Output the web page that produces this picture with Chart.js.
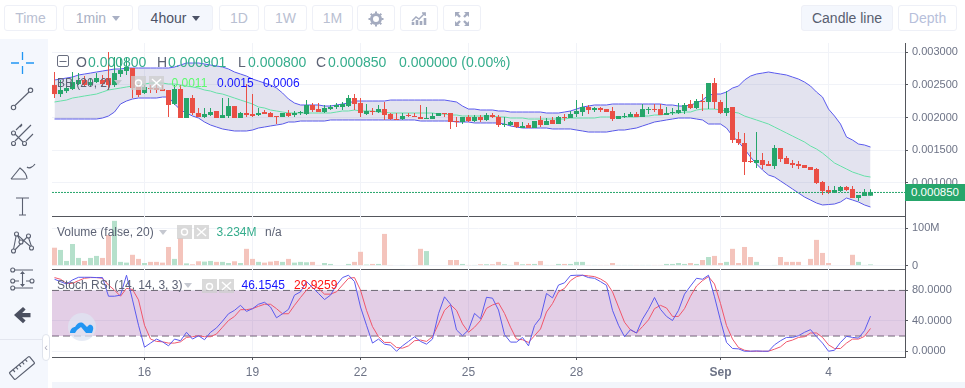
<!DOCTYPE html>
<html><head><meta charset="utf-8">
<script src="https://cdn.jsdelivr.net/npm/chart.js@4.4.1/dist/chart.umd.js"></script>
<style>
html,body{margin:0;padding:0;background:#fff;width:965px;height:388px;overflow:hidden;font-family:"Liberation Sans",Arial,sans-serif}
canvas{position:absolute;left:52px;display:block}
.btn{position:absolute;top:5px;height:26px;box-sizing:border-box;border:1px solid #eef0f7;border-radius:3px;background:#fff;font-size:14px;line-height:24px;text-align:center;color:#b9c0d2}
.btn.on{background:#f4f7fd;color:#4c5266}
.caret{display:inline-block;width:0;height:0;border-left:4.5px solid transparent;border-right:4.5px solid transparent;border-top:5px solid currentColor;margin-left:6px;vertical-align:2px}
.t{position:absolute;white-space:nowrap;line-height:14px}
.lab{font-size:12px;color:#5d6375}
.ohlc{font-size:14px;line-height:16px}
.tg{position:absolute;width:15px;height:14px;background:rgba(205,205,205,.75)}
#side{position:absolute;left:0;top:39px;width:48px;height:349px;background:#f4f7fd}
#foot{position:absolute;left:52px;top:382px;width:913px;height:6px;background:#f2f5fb}
#tag{position:absolute;left:905px;top:184px;width:60px;height:17px;background:#26a66b;color:#fff;font-size:11.5px;line-height:17px;text-align:center}
#hnd{position:absolute;left:42px;top:334px;width:8px;height:27px;box-sizing:border-box;background:#fff;border:1px solid #dfe3ec;border-radius:4px;color:#aab;font-size:11px;line-height:24px;text-align:center}
svg{position:absolute;left:0;top:0;overflow:visible}
</style></head><body>
<div id="side"></div><div id="foot"></div>
<canvas id="cPrice" width="913" height="174" style="top:43px;width:913px;height:174px"></canvas>
<canvas id="cVol" width="913" height="54" style="top:216px;width:913px;height:54px"></canvas>
<canvas id="cStoch" width="913" height="113" style="top:269px;width:913px;height:113px"></canvas>

<div class="btn" style="left:4px;width:53px">Time</div>
<div class="btn" style="left:63px;width:70px;color:#a9b0c4">1min<span class="caret"></span></div>
<div class="btn on" style="left:138px;width:75px">4hour<span class="caret"></span></div>
<div class="btn" style="left:219px;width:40px">1D</div>
<div class="btn" style="left:264px;width:43px">1W</div>
<div class="btn" style="left:312px;width:41px">1M</div>
<div class="btn" style="left:357px;width:38px"></div>
<div class="btn" style="left:400px;width:38px"></div>
<div class="btn" style="left:443px;width:38px"></div>
<div class="btn on" style="left:801px;width:92px;color:#585e70">Candle line</div>
<div class="btn" style="left:898px;width:59px;color:#b7bfdb">Depth</div>

<svg width="965" height="388" fill="none">
  <g stroke="#a4abbf" fill="none">
    <circle cx="376" cy="19" r="4.5" stroke-width="3"/>
    <path stroke-width="2" d="M376 11.5v2M376 24.5v2M368.5 19h2M381.5 19h2M370.7 13.7l1.4 1.4M379.9 22.9l1.4 1.4M370.7 24.3l1.4-1.4M379.9 15.1l1.4-1.4"/>
    <path stroke-width="1.4" d="M412 21l4-4 3 2 6-6M422 13h3.2v3"/>
    <path stroke-width="2.6" d="M413 25v-3M417 25v-5M421 25v-4M425 25v-7"/>
    <path stroke-width="2.4" d="M456 13l4 4M468 13l-4 4M456 25l4-4M468 25l-4-4"/>
    <path fill="#a4abbf" stroke="none" d="M455 12h5l-5 5zM469 12v5l-5-5zM455 26v-5l5 5zM469 26h-5l5-5z"/>
  </g>
  <path stroke="#2196f3" stroke-width="1.3" d="M22.5 52v8M22.5 66v8M11 63h8M26 63h8"/>
  <g stroke="#5a6070" stroke-width="1.1" fill="#f4f7fd">
    <path d="M15 105.5L29 92"/><circle cx="13.5" cy="107.5" r="2.2"/><circle cx="30.5" cy="90.3" r="2.2"/>
    <path d="M16 130l6-6M22 125l-2 2M15 141l16-16M26 141l7-7M15 134l8 8"/><circle cx="13.5" cy="133" r="2"/><circle cx="13.5" cy="143.5" r="2"/><circle cx="24.5" cy="143.5" r="2"/>
    <path fill="none" d="M11 179H26M11 179L20 168C24 171 27 174 27 179M27 167c2 2 6 0 8-3"/>
    <path fill="none" d="M16 198H29M22.5 198V215M19 215H26"/>
    <path fill="none" d="M13 252L16.5 234L32 248L28 236L13 252M16.5 234L21 242"/><circle cx="13.5" cy="251" r="2"/><circle cx="16.5" cy="234" r="2"/><circle cx="28.5" cy="236" r="2"/><circle cx="21" cy="242" r="2"/><circle cx="31.5" cy="248" r="2"/>
    <path fill="none" d="M15 270H33M15 281H19M26 281H30M15 288H33M22.5 273V285"/><circle cx="12.7" cy="270" r="2"/><circle cx="12.7" cy="281" r="2"/><circle cx="32" cy="281" r="2"/><circle cx="12.7" cy="288" r="2"/>
    <path fill="#5a6070" stroke="none" d="M22.5 271l2.5 3h-5zM22.5 287l2.5-3h-5z"/>
  </g>
  <path fill="#4b5060" d="M14 315l9-8 2.6 2.6-3.5 3.4H30.5v4.2H22.1l3.5 3.4-2.6 2.6z"/>
  <path stroke="#e3e6ef" d="M0 339.5H48"/>
  <g transform="translate(22 368) rotate(-40)" stroke="#5a6070" stroke-width="1.2" fill="none">
    <rect x="-13" y="-4.5" width="26" height="9" rx="1"/>
    <path d="M-8 -4.5v3M-4 -4.5v3M0 -4.5v3M4 -4.5v3M8 -4.5v3"/>
  </g>
  <circle cx="82" cy="327" r="14" fill="#dfe4f2" fill-opacity=".75"/>
  <path fill="#2196f3" d="M70 333c0-4 3-6 5-6 2-4 6-6 9-3l3 3 2-2c3-1 5 2 4 5l-1 3h-6l-5-6-4 3-2 3z"/>
  <rect x="57.5" y="55.5" width="11" height="11" rx="1.5" stroke="#6a6f80"/>
  <path stroke="#6a6f80" d="M59.5 61.5H66.5"/>
</svg>

<div class="t ohlc" style="left:76px;top:54px;color:#5d6375">O</div><div class="t ohlc" style="left:88px;top:54px;color:#35ad8c">0.000800</div>
<div class="t ohlc" style="left:157px;top:54px;color:#5d6375">H</div><div class="t ohlc" style="left:168px;top:54px;color:#35ad8c">0.000901</div>
<div class="t ohlc" style="left:238px;top:54px;color:#5d6375">L</div><div class="t ohlc" style="left:248px;top:54px;color:#35ad8c">0.000800</div>
<div class="t ohlc" style="left:316px;top:54px;color:#5d6375">C</div><div class="t ohlc" style="left:328px;top:54px;color:#35ad8c">0.000850</div>
<div class="t ohlc" style="left:399px;top:54px;color:#35ad8c">0.000000 (0.00%)</div>

<div class="t lab" style="left:57px;top:76px">BB (20, 2)</div>
<div class="t lab" style="left:114px;top:80px;color:#c5c8d0;font-size:0"><span class="caret" style="margin:0;vertical-align:top"></span></div>
<div class="tg" style="left:131px;top:76px"></div><div class="tg" style="left:149px;top:76px"></div>
<div class="t lab" style="left:171.5px;top:76px;color:#5cfb6e">0.0011</div>
<div class="t lab" style="left:217px;top:76px;color:#1515ff">0.0015</div>
<div class="t lab" style="left:263px;top:76px;color:#1515ff">0.0006</div>

<div class="t lab" style="left:57px;top:225px">Volume (false, 20)</div>
<div class="t" style="left:159px;top:230px;color:#c5c8d0;font-size:0"><span class="caret" style="margin:0;vertical-align:top"></span></div>
<div class="tg" style="left:177px;top:225px"></div><div class="tg" style="left:194px;top:225px"></div>
<div class="t lab" style="left:216.5px;top:225px;color:#35ad8c">3.234M</div>
<div class="t lab" style="left:265px;top:225px">n/a</div>

<div class="t lab" style="left:57px;top:278px">Stoch RSI (14, 14, 3, 3)</div>
<div class="t" style="left:184px;top:283px;color:#c5c8d0;font-size:0"><span class="caret" style="margin:0;vertical-align:top"></span></div>
<div class="tg" style="left:202px;top:279px"></div><div class="tg" style="left:219px;top:279px"></div>
<div class="t lab" style="left:241.5px;top:278px;color:#1515ff">46.1545</div>
<div class="t lab" style="left:294px;top:278px;color:#ff1515">29.9259</div>

<svg width="965" height="388" fill="none" stroke="#fff" stroke-width="1.4">
  <circle cx="138.5" cy="83" r="3"/><circle cx="184.5" cy="232" r="3"/><circle cx="209.5" cy="286.5" r="3"/>
  <path d="M152 79l9 8M161 79l-9 8M197 228l9 8M206 228l-9 8M222 282l9 8M231 282l-9 8"/>
</svg>

<div id="tag">0.000850</div>
<div id="hnd">‹</div>

<script>
// All prices below are in millionths (1 = 0.000001).
const micro = a => a.map(v => v / 1e6);
const opens = micro([
2498,2360,2406,2437,2514,2575,2498,2544,2575,2606,
2498,2667,2713,2759,2468,2376,2452,2452,2437,2422,
2207,2437,1992,2299,2069,2008,2038,2100,1992,2023,
2176,1992,2069,2054,2038,2084,2069,2023,2008,2069,
2038,2069,2054,2192,2130,2084,2130,2161,2161,2176,
2299,2222,2054,2100,2084,2130,2054,1977,1977,2038,
2023,2008,1977,1977,2023,2069,2069,1946,1931,2008,
1946,2008,1962,2038,2008,1885,1885,1931,1839,1885,
1839,1962,1885,1962,1900,2008,1992,2054,2084,2161,
2115,2146,2130,2100,1977,2008,2008,2054,2008,2115,
2130,2130,2038,2069,2069,2100,2207,2146,2253,2238,
2529,2238,2069,2161,1670,1609,1333,1302,1348,1287,
1256,1532,1379,1302,1287,1271,1241,1210,1011,888,
857,873,934,903,765,796,800]);
const closes = micro([
2360,2422,2452,2544,2575,2498,2544,2606,2514,2498,
2682,2728,2775,2452,2345,2468,2437,2422,2406,2192,
2437,1992,2299,2069,2008,2054,2084,1992,2038,2176,
1992,2069,2038,2023,2069,2054,2008,2008,2069,2023,
2069,2084,2192,2115,2084,2146,2161,2192,2207,2299,
2207,2069,2100,2084,2130,2038,1977,1962,2023,2023,
2008,1977,1992,2023,2069,2054,1931,1931,2008,1946,
2008,1962,2038,2008,1885,1900,1931,1854,1870,1839,
1946,1885,1946,1900,2008,1992,2054,2100,2161,2115,
2146,2115,2084,1977,2023,2023,2054,2008,2130,2130,
2115,2038,2069,2084,2115,2192,2146,2253,2238,2529,
2238,2069,2146,1655,1609,1317,1317,1348,1271,1256,
1532,1363,1287,1271,1256,1225,1195,995,873,857,
888,934,888,765,811,857,850]);
const highs = micro([
2698,2575,2606,2698,2682,2636,2606,2682,2652,3005,
2928,2913,2928,2759,2514,2498,2498,2498,2498,2422,
2498,2498,2299,2345,2146,2146,2146,2100,2299,2299,
2176,2084,2514,2360,2146,2115,2084,2023,2069,2115,
2100,2100,2268,2222,2222,2192,2192,2222,2238,2345,
2360,2299,2207,2146,2192,2238,2069,2069,2069,2069,
2069,2192,2161,2069,2069,2069,2069,2008,2008,2038,
2038,2038,2069,2069,2038,2008,1946,1931,1931,1916,
1946,2023,1992,2008,2023,2054,2100,2268,2222,2192,
2161,2161,2130,2161,2023,2069,2084,2084,2207,2161,
2207,2207,2161,2146,2222,2222,2268,2284,2360,2529,
2606,2268,2406,2161,1777,1762,1471,1777,1455,1333,
1578,1532,1409,1348,1333,1271,1241,1225,1026,949,
949,949,949,949,811,903,901]);
const lows = micro([
2299,2314,2376,2422,2498,2468,2468,2529,2483,2422,
2468,2621,2652,2299,2314,2360,2376,2376,2406,2008,
2192,1992,1992,2038,2008,1992,2023,1992,1992,1992,
1992,1992,2008,2008,2023,2054,2008,1900,2008,2008,
2008,2038,2038,2084,2084,2069,2115,2130,2115,2161,
2115,2008,2038,2038,2069,1962,1962,1962,1962,2008,
2008,1977,1977,1977,2023,2008,1824,1854,1900,1931,
1931,1931,1946,1992,1854,1854,1870,1839,1839,1839,
1839,1854,1885,1900,1900,1946,1992,2008,2023,2054,
2084,2084,2084,1946,1977,1992,2008,2008,2008,2054,
2084,2038,2038,2038,2054,2054,2130,2130,2100,2130,
2130,2054,2023,1609,1578,1118,1302,1225,1210,1256,
1210,1317,1287,1225,1210,1225,1195,980,811,827,
842,857,873,765,719,796,800]);
const bbUpper = micro([
2575,2590,2606,2621,2652,2667,2682,2698,2713,2728,
2744,2744,2759,2759,2759,2759,2759,2759,2759,2759,
2775,2805,2836,2836,2836,2821,2805,2790,2775,2744,
2698,2667,2636,2590,2560,2529,2498,2452,2376,2284,
2222,2192,2192,2192,2192,2176,2176,2192,2207,2222,
2253,2253,2253,2253,2253,2253,2268,2268,2268,2268,
2268,2268,2268,2268,2268,2268,2253,2238,2176,2130,
2130,2115,2115,2115,2100,2100,2084,2084,2084,2084,
2084,2084,2069,2069,2069,2084,2100,2130,2161,2176,
2192,2192,2192,2207,2207,2207,2207,2207,2207,2207,
2207,2207,2192,2192,2176,2176,2192,2222,2268,2345,
2360,2360,2391,2452,2483,2575,2636,2667,2682,2698,
2682,2667,2652,2621,2590,2544,2483,2391,2314,2130,
2023,1900,1701,1655,1593,1578,1547]);
const bbMiddle = micro([
2238,2253,2268,2299,2314,2330,2345,2360,2391,2422,
2437,2452,2468,2483,2498,2514,2529,2529,2529,2514,
2514,2498,2483,2468,2452,2422,2406,2376,2360,2330,
2299,2268,2238,2207,2161,2146,2115,2100,2084,2069,
2069,2069,2069,2069,2069,2069,2069,2084,2100,2100,
2115,2100,2100,2100,2084,2084,2069,2069,2069,2069,
2069,2069,2069,2069,2054,2054,2038,2038,2023,2023,
2023,2023,2023,2023,2008,2008,1992,1992,1992,1977,
1977,1977,1977,1977,1977,1977,1992,1992,1992,1992,
1992,2008,2008,2008,2008,2008,2008,2008,2023,2023,
2038,2038,2054,2069,2069,2084,2084,2115,2130,2130,
2130,2115,2100,2084,2069,2023,1992,1962,1931,1900,
1854,1808,1762,1716,1670,1624,1563,1517,1455,1379,
1302,1256,1210,1164,1133,1102,1087]);
const bbLower = micro([
1977,1977,1977,1977,1977,1977,1977,1977,1992,2023,
2084,2207,2253,2284,2299,2299,2299,2299,2314,2314,
2207,2115,2069,2023,1992,1931,1885,1854,1824,1808,
1793,1793,1793,1808,1839,1854,1870,1885,1900,1931,
1931,1946,1946,1946,1946,1946,1962,1962,1962,1962,
1962,1962,1962,1962,1962,1962,1962,1962,1962,1962,
1962,1946,1946,1946,1946,1946,1946,1931,1931,1931,
1916,1916,1916,1916,1916,1900,1870,1854,1839,1839,
1839,1839,1839,1824,1824,1824,1824,1808,1793,1777,
1777,1777,1777,1793,1808,1808,1824,1839,1870,1900,
1931,1946,1962,1977,1992,1992,1992,1977,1962,1900,
1900,1900,1839,1716,1624,1517,1394,1287,1195,1118,
1087,1026,965,903,842,780,734,688,658,665,
673,704,765,734,704,658,627]);
// Volume, in millions
const volumes = [
48,42,12.5,58,20.6,12.5,20.6,26,20.6,82,
120,10,8,29,18,7,10,10,8,50,
18,74,6,3.6,11.6,10.7,12.5,10,10,7,
11.6,7,45,18,10,8,10.7,12.5,10,18,
8,10,9,10,1.8,7,4.5,0,0,4.5,
10,37,2.7,4.5,4.5,85,1.8,0,1.8,0,
1.8,45,39,0,0,0,15,15,4.5,1.8,
1.8,3.6,3.6,3.6,10,3.6,1.8,10,3.6,4.5,
4.5,12.5,1.8,1.8,4.5,4.5,4.5,10,10,1.8,
1.8,1.8,1.8,7,1.8,1.8,1.8,1.8,1.8,1.8,
1.8,1.8,4.5,4.5,7,4.5,7,4.5,15,23,
26,7,10,45,7,50,23,10,0,0,
1.8,23,10,10,10,0,18,69,34,7,
0,0,0,29,10,1.8,3.2];
const stochK = [
94.7,91.6,88.4,93.8,97.3,97.3,97.3,96.9,96.9,72.4,
72.4,73.8,100,67.6,34.2,5.3,10.7,16,12.4,7.1,
16,13.8,24.9,16,20.4,15.1,24.9,30.7,39.6,49.3,
53.8,60.4,52.4,56,61.8,64.4,58.2,44,49.3,55.1,
73.8,78.2,91.6,84,76,68,73.8,87.1,96.9,100,
91.6,58.2,34.2,10.7,16,9.3,8,0,7.1,12.9,
19.1,12.9,9.3,16,49.3,71.6,61.8,28,20.4,28,
49.8,42.7,71,69.8,54.2,22,12,12,18.2,7.1,
33.8,44,76,70.2,87.1,90,99.6,100,100,96.9,
96,91.6,86.7,53.8,34.2,19.1,28.4,24,42.2,55.1,
70.7,55.1,45.8,40.4,53.8,75.1,85.8,96,94.7,100,
71.6,40.4,11.6,3.6,3.1,0,0,0.4,0,0,
8.4,13.8,18.2,18.2,20.4,24.9,28.4,19.1,10.7,0,
1.3,11.6,19.6,18.2,17.3,27.1,46.15];
const stochD = [
96.9,94.7,89.3,89.3,92.9,96,96.9,96.9,96,87.1,
80.4,72.4,82.7,81.3,67.6,34.2,16,12.9,12.4,10.7,
10.7,12.4,18.2,19.1,20.4,19.1,19.1,22.7,31.6,40.4,
45.8,54.7,54.7,56,59.1,61.8,61.8,56,49.3,49.3,
60.4,70.7,80.4,87.1,82.7,75.1,75.1,78.2,87.1,96,
96.9,80.4,53.8,32.4,19.1,11.6,11.6,4.9,4,7.1,
13.8,14.7,12.9,19.1,36,53.8,61.3,53.8,36,24.9,
31.6,40.4,56.4,60.9,63.6,49.8,31.6,16,15.1,11.6,
20.4,29.3,51.6,62.7,78.2,82.7,92.9,98.2,100,99.1,
98.2,95.1,90.2,78.2,58.2,38.2,28,24,32.4,41.3,
56,60.4,56.9,45.8,45.8,56,72.4,85.8,92.9,98.2,
88.4,62.7,33.8,16,4.9,1.3,0,0,0,0,
2.7,5.8,12.4,14.7,18.2,19.1,24,24,18.2,8.4,
3.6,3.6,10.7,16,16,19.6,29.93];
const dateTicks = [15,33,51,69,87,111,129];
const dateLabels = ['16','19','22','25','28','Sep','4'];
const priceTicks = [0.001,0.0015,0.002,0.0025,0.003];
const volumeTicks = [0,100];
const stochTicks = [0,40,80];
const lastClose = 0.00085;
const stochBandLow = 20, stochBandHigh = 80;

const UP='#26a66b', DOWN='#ea4f45', UPV='#b5e0cb', DOWNV='#f4c4bc';
const GRID='#f1f3f8', AXIS='#54565c', TICK='#6d7386';
const XMIN=-0.4167, XMAX=141.75;
Chart.defaults.font.family='"Liberation Sans",Arial,sans-serif';
Chart.defaults.animation=false;
const idx = opens.map((_,i)=>i);
const isUp = i => closes[i] >= opens[i];
const pts = a => a.map((v,i)=>({x:i,y:v}));
const span = v => [{x:XMIN,y:v},{x:XMAX,y:v}];
const line = (data,color,extra)=>Object.assign({type:'line',data,borderColor:color,borderWidth:1,pointRadius:0,tension:0,fill:false},extra||{});
const noPad = s => {s.paddingTop=0;s.paddingBottom=0;s.paddingLeft=0;s.paddingRight=0;};

function xScale(showLabels){
  return {type:'linear',min:XMIN,max:XMAX,offset:false,
    afterBuildTicks(s){s.ticks=dateTicks.map(v=>({value:v}));},
    afterTickToLabelConversion(s){s.ticks.forEach((t,i)=>{t.label=showLabels?dateLabels[i]:'';});},
    afterFit(s){s.height=showLabels?25:0;noPad(s);},
    grid:{color:GRID,offset:false,drawTicks:showLabels,tickLength:3,tickColor:AXIS},
    border:{display:true,color:AXIS,width:1},
    ticks:{display:showLabels,autoSkip:false,maxRotation:0,padding:5,color:TICK,
      font:c=>({size:12,weight:c.tick&&c.tick.label==='Sep'?'bold':'normal'})}};
}
function yScale(min,max,values,fmt){
  return {type:'linear',position:'right',min,max,
    afterBuildTicks(s){s.ticks=values.map(v=>({value:v}));},
    afterFit(s){s.width=60;noPad(s);},
    grid:{color:GRID,tickLength:3,tickColor:AXIS,drawTicks:true},
    border:{display:true,color:AXIS,width:1},
    ticks:{padding:4,color:TICK,font:{size:11},callback:fmt,autoSkip:false}};
}
const base = (pad)=>({responsive:false,maintainAspectRatio:false,animation:false,
  layout:{autoPadding:false,padding:{left:0,right:0,top:0,bottom:pad}},
  plugins:{legend:{display:false},tooltip:{enabled:false}},events:[]});

new Chart(document.getElementById('cPrice'),{type:'bar',data:{datasets:[
  {type:'bar',data:idx.map(i=>({x:i,y:[opens[i],closes[i]]})),backgroundColor:idx.map(i=>isUp(i)?UP:DOWN),barThickness:5,grouped:false,order:1,inflateAmount:0,borderWidth:0},
  {type:'bar',data:idx.map(i=>({x:i,y:[lows[i],highs[i]]})),backgroundColor:idx.map(i=>isUp(i)?UP:DOWN),barThickness:1,grouped:false,order:2,inflateAmount:0,borderWidth:0},
  line(span(lastClose),UP,{borderDash:[2,1],order:3}),
  line(pts(bbMiddle),'#66e0a8',{order:4}),
  line(pts(bbUpper),'#5a5aee',{order:5,fill:'+1',backgroundColor:'rgba(90,90,160,.17)'}),
  line(pts(bbLower),'#5a5aee',{order:6})
]},options:Object.assign(base(1),{scales:{
  x:xScale(false),
  y:yScale(0.000489,0.003143,priceTicks,v=>v.toFixed(6))}})});

new Chart(document.getElementById('cVol'),{type:'bar',data:{datasets:[
  {data:idx.map(i=>({x:i,y:volumes[i]})),backgroundColor:idx.map(i=>isUp(i)?UPV:DOWNV),barThickness:5,grouped:false,inflateAmount:0,borderWidth:0}
]},options:Object.assign(base(1),{scales:{
  x:xScale(false),
  y:yScale(-9.1,133,volumeTicks,v=>v===0?'0':v+'M')}})});

new Chart(document.getElementById('cStoch'),{type:'line',data:{datasets:[
  line(pts(stochK),'#5a5aee',{order:1}),
  line(pts(stochD),'#f0566b',{order:2}),
  line(span(stochBandHigh),'#6f6874',{borderDash:[7,4],order:3,fill:'+1',backgroundColor:'rgba(140,50,150,.24)'}),
  line(span(stochBandLow),'#6f6874',{borderDash:[7,4],order:4})
]},options:Object.assign(base(0),{scales:{
  x:xScale(true),
  y:yScale(-7.6,108.2,stochTicks,v=>v.toFixed(4))}})});
</script>
</body></html>
